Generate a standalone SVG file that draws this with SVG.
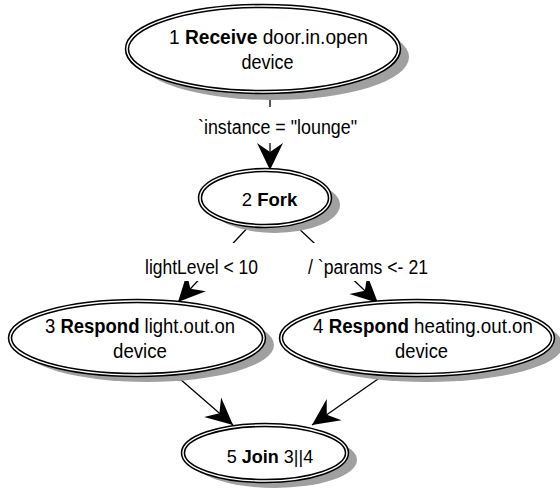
<svg xmlns="http://www.w3.org/2000/svg" width="560" height="492" viewBox="0 0 560 492">
  <style>
    .shadow { fill: #a0a0a0; stroke: none; }
    .rim { fill: #ffffff; stroke: #000000; stroke-width: 4.5; }
    .gap { fill: none; stroke: #ffffff; stroke-width: 1.4; }
    text { font-family: "Liberation Sans", Arial, sans-serif; font-size: 20px; fill: #000000; text-anchor: middle; }
    .b { font-weight: bold; }
    .edge { stroke: #000000; stroke-width: 1.3; fill: none; marker-end: url(#arrow); }
    .lbl-bg { fill: #ffffff; stroke: none; }
  </style>
  <defs>
    <marker id="arrow" markerUnits="userSpaceOnUse" viewBox="-28 -14 29 28" refX="0" refY="0" markerWidth="29" markerHeight="28" orient="auto">
      <path d="M0,0 L-27,-13 L-18,0 L-27,13 Z" fill="#000000"/>
    </marker>
  </defs>
  <rect width="560" height="492" fill="#ffffff"/>

  <g id="connectors">
    <line class="edge" x1="270" y1="80" x2="270" y2="170"/>
    <rect class="lbl-bg" x="190" y="107" width="176" height="36"/>
    <text x="277.5" y="134" textLength="159" lengthAdjust="spacingAndGlyphs">`instance = "lounge"</text>

    <line class="edge" x1="252" y1="223" x2="178" y2="302"/>
    <rect class="lbl-bg" x="138" y="243" width="128" height="38"/>
    <text x="201.5" y="273.5" textLength="113" lengthAdjust="spacingAndGlyphs">lightLevel &lt; 10</text>

    <line class="edge" x1="296" y1="226" x2="378" y2="303"/>
    <rect class="lbl-bg" x="300" y="243" width="136" height="38"/>
    <text x="368" y="273.5" textLength="120" lengthAdjust="spacingAndGlyphs">/ `params &lt;- 21</text>

    <line class="edge" x1="172" y1="372" x2="233" y2="425"/>
    <line class="edge" x1="388" y1="372" x2="312" y2="425"/>
  </g>

  <g id="node1">
    <ellipse class="shadow" cx="273" cy="57" rx="136" ry="43"/>
    <ellipse class="rim" cx="263" cy="49" rx="136" ry="43"/>
    <ellipse class="gap" cx="263" cy="49" rx="136" ry="43"/>
    <text x="268.5" y="43.5" textLength="199" lengthAdjust="spacingAndGlyphs">1 <tspan class="b">Receive</tspan> door.in.open</text>
    <text x="267.5" y="69" textLength="52" lengthAdjust="spacingAndGlyphs">device</text>
  </g>

  <g id="node2">
    <ellipse class="shadow" cx="275" cy="205" rx="65" ry="28"/>
    <ellipse class="rim" cx="265" cy="198" rx="65" ry="28"/>
    <ellipse class="gap" cx="265" cy="198" rx="65" ry="28"/>
    <text x="269.5" y="206" style="font-size:18.5px">2 <tspan class="b">Fork</tspan></text>
  </g>

  <g id="node3">
    <ellipse class="shadow" cx="147" cy="345" rx="127" ry="37"/>
    <ellipse class="rim" cx="137" cy="338" rx="127" ry="37"/>
    <ellipse class="gap" cx="137" cy="338" rx="127" ry="37"/>
    <text x="140" y="333" textLength="190" lengthAdjust="spacingAndGlyphs">3 <tspan class="b">Respond</tspan> light.out.on</text>
    <text x="140" y="358" textLength="54" lengthAdjust="spacingAndGlyphs">device</text>
  </g>

  <g id="node4">
    <ellipse class="shadow" cx="427" cy="345" rx="136" ry="37"/>
    <ellipse class="rim" cx="417" cy="338" rx="136" ry="37"/>
    <ellipse class="gap" cx="417" cy="338" rx="136" ry="37"/>
    <text x="423" y="333" textLength="220" lengthAdjust="spacingAndGlyphs">4 <tspan class="b">Respond</tspan> heating.out.on</text>
    <text x="421.5" y="358" textLength="53" lengthAdjust="spacingAndGlyphs">device</text>
  </g>

  <g id="node5">
    <ellipse class="shadow" cx="275" cy="460" rx="82" ry="28"/>
    <ellipse class="rim" cx="265" cy="453" rx="82" ry="28"/>
    <ellipse class="gap" cx="265" cy="453" rx="82" ry="28"/>
    <text x="270" y="462.5" style="font-size:18px">5 <tspan class="b">Join</tspan> 3||4</text>
  </g>
</svg>
